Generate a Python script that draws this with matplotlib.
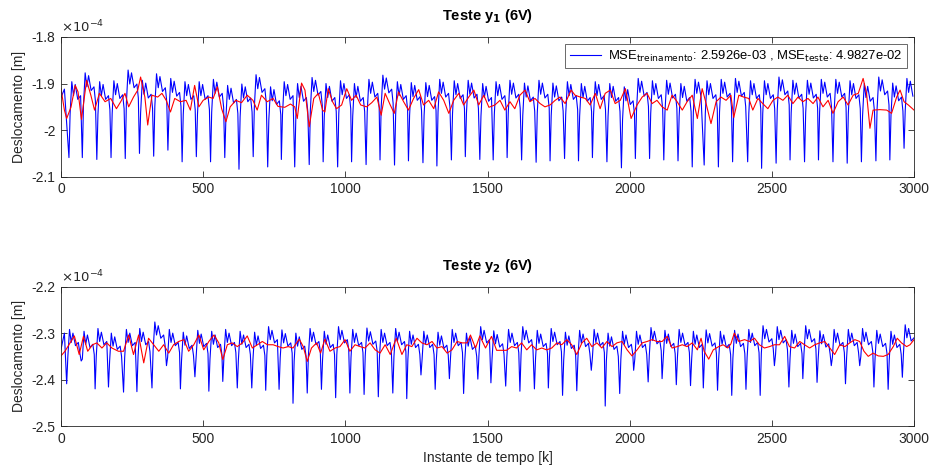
import matplotlib
matplotlib.use("Agg")
import matplotlib.pyplot as plt
import numpy as np
from matplotlib.ticker import FuncFormatter

plt.rcParams['font.family'] = ['Liberation Sans', 'DejaVu Sans']
plt.rcParams['axes.unicode_minus'] = False

# ---------------- data (units of 1e-4 m) ----------------
# Top plot (y1): blue troughs (sample index, value) and peaks per cycle
y1_trough_k = [28, 75, 126, 176, 226, 276, 326, 376, 426, 476, 526, 576, 626, 676, 727,
               775, 822, 873, 922, 973, 1022, 1073, 1122, 1173, 1222, 1273, 1322, 1373, 1422, 1473,
               1520, 1569, 1620, 1671, 1720, 1771, 1820, 1869, 1920, 1971, 2020, 2070, 2120, 2170, 2220,
               2262, 2312, 2362, 2415, 2464, 2515, 2564, 2615, 2664, 2715, 2765, 2815, 2866, 2915, 2965]
y1_trough = [-2.059, -2.059, -2.063, -2.059, -2.061, -2.050, -2.056, -2.043, -2.068, -2.057, -2.068, -2.059, -2.084, -2.057, -2.079,
             -2.063, -2.079, -2.074, -2.068, -2.079, -2.068, -2.074, -2.064, -2.075, -2.066, -2.070, -2.077, -2.064, -2.057, -2.063,
             -2.064, -2.059, -2.064, -2.069, -2.066, -2.061, -2.066, -2.059, -2.068, -2.081, -2.061, -2.061, -2.064, -2.066, -2.079,
             -2.075, -2.079, -2.068, -2.068, -2.082, -2.071, -2.064, -2.068, -2.064, -2.068, -2.071, -2.068, -2.066, -2.064, -2.039]
y1_peak = [-1.896, -1.877, -1.896, -1.894, -1.871, -1.893, -1.879, -1.889, -1.896, -1.896, -1.891, -1.904, -1.901, -1.881, -1.907,
           -1.896, -1.900, -1.887, -1.900, -1.894, -1.900, -1.891, -1.882, -1.896, -1.898, -1.898, -1.891, -1.894, -1.893, -1.900,
           -1.896, -1.893, -1.899, -1.893, -1.899, -1.896, -1.900, -1.896, -1.900, -1.907, -1.889, -1.894, -1.893, -1.900, -1.891,
           -1.894, -1.891, -1.889, -1.894, -1.894, -1.886, -1.893, -1.893, -1.891, -1.891, -1.894, -1.900, -1.886, -1.899, -1.889]
# shape of one blue cycle after the trough: sample offsets and level relative to the cycle peak
cycle_off = [0, 4, 10, 16, 22, 31, 41, 46]
y1_cycle_rel = [None, -0.070, 0.0, -0.030, -0.006, -0.038, -0.030, -0.060]
y1_start = [-1.93, -1.912]      # values at k=0 and k=12 before first trough

y1_red_k = [0, 12, 20, 35, 50, 60, 72, 90, 105, 118, 135, 155, 175, 195, 210, 225, 238, 255, 270, 280,
            295, 305, 320, 340, 355, 370, 385, 400, 420, 440, 455, 470, 485, 500, 520, 535, 550, 565, 580, 595,
            615, 635, 655, 675, 690, 705, 725, 746, 763, 787, 807, 822, 831, 846, 858, 873, 889, 905, 920, 928,
            940, 955, 969, 987, 1005, 1022, 1038, 1054, 1075, 1093, 1111, 1126, 1140, 1158, 1172, 1187, 1205, 1222, 1240, 1258,
            1275, 1293, 1311, 1328, 1346, 1364, 1381, 1399, 1416, 1434, 1452, 1469, 1487, 1505, 1526, 1544, 1561, 1579, 1596, 1614,
            1632, 1649, 1667, 1685, 1702, 1720, 1738, 1755, 1773, 1794, 1808, 1826, 1844, 1861, 1879, 1896, 1914, 1932, 1949, 1967,
            1985, 2005, 2026, 2044, 2061, 2079, 2096, 2114, 2132, 2149, 2167, 2185, 2202, 2220, 2238, 2255, 2266, 2286, 2304, 2321,
            2339, 2356, 2366, 2384, 2401, 2419, 2433, 2451, 2468, 2486, 2504, 2521, 2539, 2556, 2574, 2592, 2609, 2627, 2645, 2662,
            2680, 2698, 2715, 2733, 2751, 2768, 2786, 2804, 2821, 2833, 2845, 2856, 2880, 2904, 2921, 2939, 2951, 2965, 2980, 3000]
y1_red = [-1.911, -1.957, -1.975, -1.951, -1.904, -1.918, -1.977, -1.893, -1.925, -1.957, -1.921, -1.939, -1.932, -1.954, -1.939, -1.921, -1.950, -1.929, -1.914, -1.886,
          -1.929, -1.989, -1.925, -1.929, -1.921, -1.936, -1.961, -1.932, -1.939, -1.936, -1.957, -1.904, -1.950, -1.936, -1.929, -1.932, -1.907, -1.954, -1.982, -1.950,
          -1.936, -1.941, -1.925, -1.936, -1.957, -1.925, -1.939, -1.932, -1.949, -1.951, -1.944, -1.950, -1.975, -1.899, -1.914, -1.993, -1.932, -1.921, -1.957, -1.961,
          -1.911, -1.939, -1.954, -1.946, -1.911, -1.936, -1.925, -1.946, -1.950, -1.941, -1.929, -1.968, -1.921, -1.946, -1.964, -1.918, -1.939, -1.957, -1.932, -1.913,
          -1.946, -1.936, -1.954, -1.918, -1.936, -1.964, -1.936, -1.921, -1.946, -1.929, -1.914, -1.946, -1.925, -1.951, -1.946, -1.936, -1.957, -1.939, -1.954, -1.925,
          -1.914, -1.939, -1.932, -1.943, -1.950, -1.946, -1.936, -1.929, -1.943, -1.914, -1.925, -1.929, -1.932, -1.946, -1.921, -1.954, -1.921, -1.914, -1.943, -1.936,
          -1.911, -1.975, -1.946, -1.929, -1.921, -1.943, -1.936, -1.950, -1.957, -1.925, -1.939, -1.957, -1.939, -1.925, -1.975, -1.911, -1.936, -1.986, -1.939, -1.929,
          -1.936, -1.925, -1.973, -1.925, -1.929, -1.932, -1.957, -1.932, -1.943, -1.954, -1.936, -1.929, -1.936, -1.925, -1.943, -1.929, -1.939, -1.932, -1.943, -1.929,
          -1.950, -1.936, -1.964, -1.939, -1.929, -1.946, -1.925, -1.921, -1.889, -1.921, -1.996, -1.957, -1.956, -1.957, -1.964, -1.929, -1.914, -1.939, -1.946, -1.957]

# Bottom plot (y2)
y2_trough_k = [20, 71, 120, 167, 220, 267, 320, 371, 420, 471, 520, 569, 620, 671, 720,
               767, 816, 866, 916, 966, 1016, 1066, 1116, 1167, 1216, 1266, 1316, 1366, 1416, 1466,
               1512, 1564, 1614, 1665, 1714, 1764, 1814, 1865, 1914, 1965, 2014, 2065, 2114, 2164, 2214,
               2259, 2309, 2359, 2409, 2459, 2509, 2560, 2609, 2659, 2709, 2759, 2809, 2859, 2909, 2959]
y2_trough = [-2.409, -2.360, -2.420, -2.416, -2.427, -2.426, -2.418, -2.370, -2.420, -2.394, -2.425, -2.404, -2.418, -2.418, -2.423,
             -2.421, -2.451, -2.429, -2.421, -2.439, -2.429, -2.432, -2.437, -2.429, -2.441, -2.390, -2.421, -2.398, -2.430, -2.399,
             -2.407, -2.414, -2.425, -2.420, -2.418, -2.434, -2.424, -2.380, -2.457, -2.430, -2.380, -2.405, -2.398, -2.411, -2.413,
             -2.418, -2.423, -2.434, -2.421, -2.434, -2.370, -2.416, -2.398, -2.406, -2.370, -2.409, -2.370, -2.416, -2.421, -2.395]
y2_peak = [-2.292, -2.296, -2.290, -2.300, -2.292, -2.290, -2.276, -2.292, -2.298, -2.294, -2.296, -2.292, -2.296, -2.298, -2.286,
           -2.293, -2.300, -2.290, -2.296, -2.286, -2.292, -2.289, -2.292, -2.290, -2.296, -2.296, -2.298, -2.292, -2.300, -2.286,
           -2.295, -2.292, -2.286, -2.294, -2.290, -2.298, -2.294, -2.292, -2.300, -2.296, -2.296, -2.288, -2.294, -2.292, -2.296,
           -2.293, -2.296, -2.294, -2.292, -2.284, -2.286, -2.294, -2.284, -2.295, -2.292, -2.292, -2.290, -2.294, -2.296, -2.282]
y2_cycle_rel = [None, -0.060, 0.0, -0.028, -0.008, -0.035, -0.028, -0.050]
y2_start = [-2.335, -2.300]

y2_red_k = [0, 14, 32, 47, 64, 79, 94, 111, 126, 144, 161, 179, 202, 220, 238, 255, 273, 291, 308, 326,
            344, 361, 379, 396, 414, 432, 449, 467, 485, 502, 520, 538, 555, 569, 585, 602, 620, 638, 655, 673,
            691, 708, 726, 746, 764, 781, 799, 816, 838, 852, 866, 881, 899, 913, 928, 946, 964, 981, 999, 1016,
            1034, 1052, 1069, 1087, 1105, 1122, 1140, 1158, 1179, 1199, 1216, 1234, 1252, 1269, 1287, 1305, 1322, 1340, 1358, 1375,
            1393, 1411, 1428, 1440, 1458, 1473, 1493, 1514, 1532, 1549, 1567, 1585, 1602, 1620, 1638, 1655, 1673, 1691, 1708, 1726,
            1744, 1761, 1779, 1796, 1814, 1832, 1849, 1867, 1885, 1902, 1920, 1938, 1955, 1973, 1991, 2008, 2026, 2044, 2061, 2079,
            2096, 2114, 2132, 2149, 2167, 2185, 2202, 2220, 2238, 2251, 2262, 2278, 2294, 2313, 2329, 2345, 2356, 2368, 2384, 2404,
            2421, 2439, 2456, 2474, 2492, 2509, 2527, 2545, 2562, 2580, 2598, 2615, 2633, 2651, 2668, 2686, 2704, 2721, 2739, 2757,
            2774, 2792, 2809, 2824, 2839, 2856, 2874, 2892, 2909, 2927, 2941, 2956, 2974, 2986, 3000]
y2_red = [-2.349, -2.339, -2.321, -2.306, -2.346, -2.307, -2.339, -2.325, -2.321, -2.332, -2.321, -2.332, -2.339, -2.339, -2.304, -2.346, -2.304, -2.364, -2.311, -2.325,
          -2.339, -2.325, -2.343, -2.325, -2.318, -2.314, -2.339, -2.325, -2.304, -2.336, -2.318, -2.304, -2.321, -2.357, -2.325, -2.321, -2.329, -2.321, -2.306, -2.332,
          -2.325, -2.318, -2.325, -2.325, -2.329, -2.332, -2.329, -2.332, -2.313, -2.329, -2.361, -2.332, -2.321, -2.343, -2.313, -2.339, -2.332, -2.329, -2.314, -2.339,
          -2.325, -2.329, -2.332, -2.321, -2.336, -2.343, -2.325, -2.346, -2.311, -2.346, -2.325, -2.329, -2.311, -2.321, -2.325, -2.318, -2.332, -2.329, -2.343, -2.336,
          -2.318, -2.321, -2.321, -2.304, -2.332, -2.306, -2.332, -2.307, -2.337, -2.337, -2.337, -2.329, -2.332, -2.321, -2.336, -2.325, -2.336, -2.332, -2.336, -2.332,
          -2.321, -2.325, -2.314, -2.325, -2.346, -2.321, -2.311, -2.329, -2.321, -2.332, -2.318, -2.329, -2.321, -2.318, -2.336, -2.349, -2.336, -2.321, -2.318, -2.314,
          -2.318, -2.318, -2.307, -2.332, -2.329, -2.325, -2.329, -2.321, -2.336, -2.311, -2.339, -2.356, -2.336, -2.329, -2.325, -2.332, -2.323, -2.300, -2.318, -2.314,
          -2.318, -2.311, -2.325, -2.332, -2.329, -2.325, -2.325, -2.307, -2.329, -2.332, -2.318, -2.325, -2.332, -2.325, -2.321, -2.318, -2.332, -2.346, -2.325, -2.329,
          -2.321, -2.314, -2.318, -2.339, -2.350, -2.343, -2.349, -2.350, -2.346, -2.329, -2.311, -2.321, -2.329, -2.325, -2.314]

x_ticks = [0, 500, 1000, 1500, 2000, 2500, 3000]
y1_ticks = [-2.1, -2.0, -1.9, -1.8]
y2_ticks = [-2.5, -2.4, -2.3, -2.2]
legend_label = r'MSE$_{\mathrm{treinamento}}$: 2.5926e-03 , MSE$_{\mathrm{teste}}$: 4.9827e-02'


def blue_vertices(start_vals, trough_k, trough, peak, rel):
    ks = [0, 12]
    vs = list(start_vals)
    for i in range(len(trough_k)):
        for off, r in zip(cycle_off, rel):
            k = trough_k[i] + off
            if i + 1 < len(trough_k) and k >= trough_k[i + 1] - 1:
                break
            if k > 3000:
                break
            ks.append(k)
            vs.append(trough[i] if r is None else peak[i] + r)
    return np.array(ks), np.array(vs)


fig = plt.figure(figsize=(9.34, 4.76), dpi=100)
ax1 = fig.add_axes([0.0653, 0.6288, 0.9133, 0.2935])
ax2 = fig.add_axes([0.0653, 0.105, 0.9133, 0.2927])

panels = [
    (ax1, y1_start, y1_trough_k, y1_trough, y1_peak, y1_cycle_rel, y1_red_k, y1_red, y1_ticks, r'Teste y$_{\mathbf{1}}$ (6V)'),
    (ax2, y2_start, y2_trough_k, y2_trough, y2_peak, y2_cycle_rel, y2_red_k, y2_red, y2_ticks, r'Teste y$_{\mathbf{2}}$ (6V)'),
]
for ax, st, tk, tv, pv, rel, rk, rv, yt, title in panels:
    bk, bv = blue_vertices(st, tk, tv, pv, rel)
    lb, = ax.plot(bk, bv, color=(0, 0, 1), lw=0.8, label=legend_label)
    ax.plot(rk, rv, color=(1, 0, 0), lw=0.8)
    ax.set_xlim(0, 3000)
    ax.set_ylim(yt[0], yt[-1])
    ax.set_xticks(x_ticks)
    ax.set_yticks(yt)
    ax.yaxis.set_major_formatter(FuncFormatter(lambda v, p: '%g' % round(v, 3)))
    ax.tick_params(direction='in', top=True, right=True, length=4, width=0.6,
                   colors='#262626', labelsize=10, pad=4)
    for s in ax.spines.values():
        s.set_color('#262626')
        s.set_linewidth(0.6)
    ax.set_ylabel('Deslocamento [m]', fontsize=10, color='#262626', labelpad=4)
    ax.set_title(title, fontsize=10.5, fontweight='bold', color='black', pad=12)
    ax.text(0.0, 1.012, r'$\times10^{-4}$', transform=ax.transAxes, fontsize=9.5,
            color='#262626', ha='left', va='bottom')
    if ax is ax1:
        leg = ax.legend(handles=[lb], loc='upper right', fontsize=9.4, frameon=True,
                        fancybox=False, edgecolor='#262626', handlelength=2.4,
                        borderaxespad=0.55, borderpad=0.35, handletextpad=0.5)
        leg.get_frame().set_linewidth(0.6)

ax2.set_xlabel('Instante de tempo [k]', fontsize=10, color='#262626')
fig.savefig('out.png', dpi=100)
